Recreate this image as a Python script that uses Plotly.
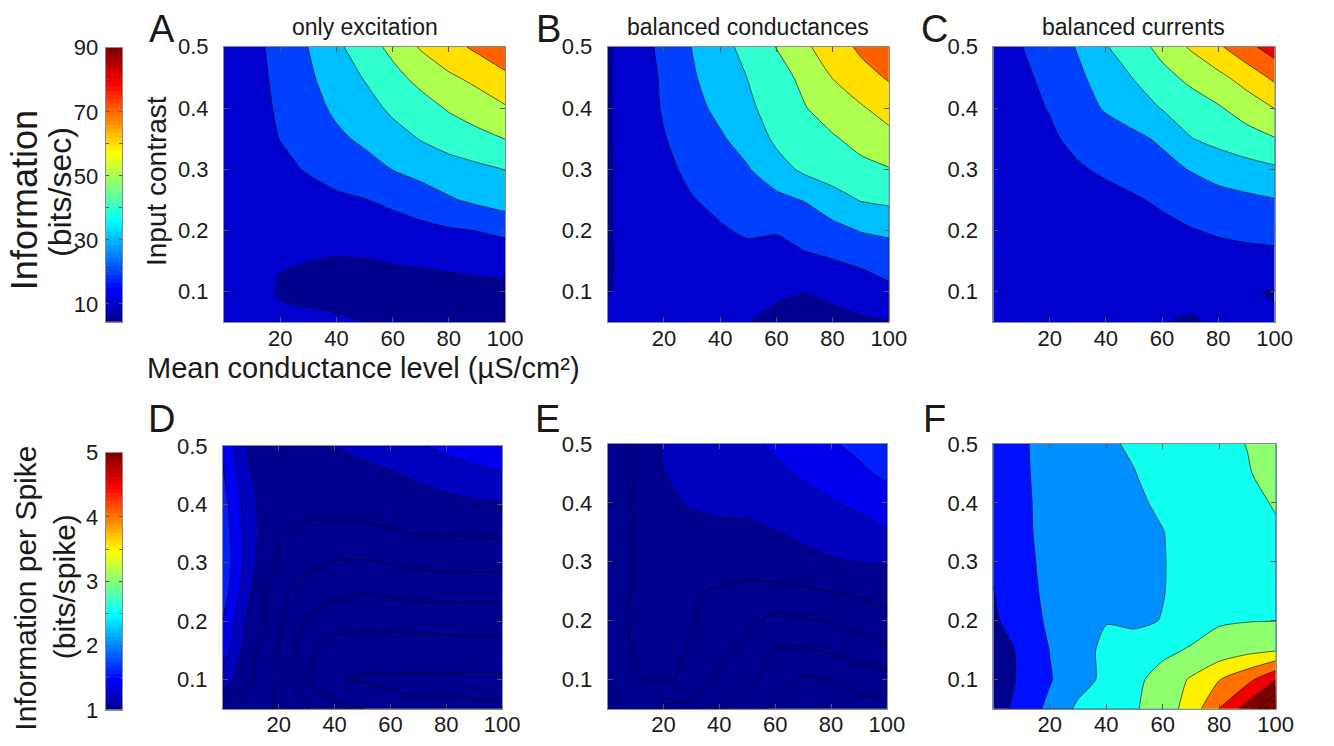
import numpy as np
import plotly.graph_objects as go

W, H = 1334, 746
FONT = "Liberation Sans, Arial, Helvetica, sans-serif"
TXT = "#1a1a1a"
BOX = "#8c8c8c"

# ---------------------------------------------------------------- data
conductance = [0, 10, 20, 30, 40, 50, 60, 70, 80, 90, 100]          # uS/cm^2
contrast = [0.05, 0.10, 0.15, 0.20, 0.25, 0.30, 0.35, 0.40, 0.45, 0.50]

# information rate (bits/sec); one row per contrast value, one column per conductance
info_only_exc = [
    [12.0, 11.5, 11.0, 11.5, 10.9, 10.1, 9.3, 8.5, 8.2, 8.0, 8.0],
    [12.0, 12.0, 9.6, 8.5, 8.0, 7.5, 7.5, 7.5, 7.5, 7.5, 7.5],
    [11.5, 11.0, 10.3, 10.1, 9.5, 9.7, 10.3, 10.8, 11.5, 12.5, 14.0],
    [11.0, 11.0, 11.5, 12.5, 13.5, 14.5, 16.0, 17.5, 19.0, 20.2, 22.0],
    [10.5, 12.0, 13.5, 15.5, 18.0, 19.7, 22.0, 25.0, 29.0, 32.0, 35.0],
    [10.5, 13.5, 17.0, 21.0, 24.5, 27.0, 30.2, 33.5, 36.0, 38.0, 40.2],
    [11.0, 15.0, 20.3, 24.5, 28.5, 31.5, 36.0, 40.5, 44.0, 47.0, 50.2],
    [11.5, 16.0, 21.5, 27.0, 31.5, 36.0, 42.0, 46.0, 51.0, 55.0, 59.0],
    [12.0, 16.5, 22.5, 28.5, 34.5, 40.6, 47.0, 53.0, 58.5, 62.5, 68.0],
    [12.0, 17.0, 23.6, 30.1, 38.0, 45.4, 52.6, 61.0, 66.7, 72.0, 77.0],
]
info_bal_cond = [
    [11.0, 11.0, 11.0, 11.0, 10.8, 10.1, 8.5, 7.5, 8.0, 9.0, 9.5],
    [9.9, 10.8, 11.0, 11.2, 11.3, 11.0, 11.0, 10.2, 11.5, 13.5, 18.0],
    [9.75, 11.0, 12.0, 13.0, 14.5, 16.0, 17.0, 18.5, 19.5, 22.0, 24.0],
    [9.7, 11.5, 13.5, 16.0, 19.0, 21.5, 20.5, 23.0, 27.0, 30.5, 32.0],
    [9.6, 12.0, 15.5, 19.5, 22.5, 25.0, 27.5, 30.5, 36.0, 40.5, 42.0],
    [9.5, 12.5, 17.5, 22.5, 26.5, 29.5, 36.0, 42.0, 45.0, 47.5, 49.5],
    [9.4, 13.5, 19.5, 24.5, 29.0, 33.5, 42.0, 46.0, 49.0, 53.0, 57.0],
    [9.3, 14.0, 21.0, 27.5, 32.0, 38.5, 43.5, 49.5, 54.5, 59.0, 64.0],
    [9.2, 14.5, 21.5, 29.0, 34.5, 40.3, 46.0, 52.5, 60.3, 66.0, 71.0],
    [9.1, 15.5, 22.5, 30.2, 36.5, 43.5, 50.3, 58.5, 64.5, 72.0, 78.0],
]
info_bal_curr = [
    [12.0, 11.5, 11.5, 11.2, 11.0, 10.7, 10.1, 9.7, 10.4, 10.5, 10.3],
    [12.0, 11.5, 11.5, 11.5, 11.5, 11.5, 11.0, 10.8, 11.0, 10.2, 9.85],
    [12.0, 12.0, 12.5, 13.0, 13.5, 14.0, 14.5, 15.5, 16.5, 17.0, 17.5],
    [12.0, 12.5, 13.0, 14.0, 15.0, 16.0, 17.5, 19.5, 21.0, 22.0, 22.5],
    [12.0, 13.0, 14.0, 15.5, 17.0, 19.0, 21.5, 24.0, 26.5, 28.0, 29.6],
    [12.5, 14.0, 16.0, 19.0, 21.5, 24.0, 27.0, 30.5, 34.0, 36.5, 38.5],
    [13.0, 15.5, 18.5, 22.5, 25.5, 28.0, 31.5, 39.6, 43.0, 46.0, 49.5],
    [13.5, 17.0, 20.5, 26.0, 31.0, 35.0, 40.5, 44.5, 49.0, 54.5, 60.2],
    [14.0, 18.0, 22.5, 28.5, 33.5, 40.5, 46.5, 52.5, 57.5, 64.0, 72.0],
    [15.0, 19.8, 25.5, 30.6, 39.5, 45.0, 53.5, 61.0, 68.5, 77.0, 85.0],
]

# information per spike (bits/spike)
spike_only_exc = [
    [1.02, 0.90, 0.78, 0.62, 0.47, 0.41, 0.26, 0.22, 0.22, 0.22, 0.215],
    [1.30, 1.02, 0.76, 0.38, 0.22, 0.18, 0.17, 0.17, 0.17, 0.16, 0.16],
    [1.50, 1.05, 0.78, 0.45, 0.33, 0.30, 0.30, 0.30, 0.31, 0.32, 0.33],
    [1.59, 1.12, 0.84, 0.58, 0.47, 0.45, 0.46, 0.48, 0.48, 0.48, 0.47],
    [1.70, 1.21, 0.85, 0.72, 0.65, 0.61, 0.63, 0.66, 0.67, 0.67, 0.67],
    [1.75, 1.25, 0.97, 0.85, 0.79, 0.78, 0.805, 0.84, 0.86, 0.86, 0.86],
    [1.72, 1.27, 1.02, 0.97, 0.96, 0.95, 0.98, 1.005, 1.01, 1.02, 1.03],
    [1.68, 1.25, 1.02, 1.04, 1.06, 1.07, 1.09, 1.12, 1.15, 1.17, 1.19],
    [1.62, 1.21, 1.05, 1.08, 1.11, 1.15, 1.18, 1.23, 1.28, 1.33, 1.38],
    [1.55, 1.15, 1.10, 1.15, 1.205, 1.25, 1.30, 1.38, 1.46, 1.52, 1.58],
]
spike_bal_cond = [
    [1.22, 0.90, 0.76, 0.73, 0.63, 0.50, 0.36, 0.30, 0.30, 0.32, 0.34],
    [0.95, 0.99, 1.02, 0.97, 0.75, 0.64, 0.52, 0.38, 0.405, 0.48, 0.54],
    [0.91, 1.02, 1.04, 0.99, 0.86, 0.75, 0.595, 0.57, 0.63, 0.69, 0.75],
    [0.92, 1.03, 1.05, 1.005, 0.93, 0.85, 0.75, 0.78, 0.81, 0.88, 0.96],
    [0.92, 1.02, 1.04, 1.02, 0.98, 0.93, 0.94, 0.97, 1.005, 1.03, 1.06],
    [0.91, 1.02, 1.06, 1.08, 1.10, 1.12, 1.14, 1.16, 1.185, 1.205, 1.22],
    [0.92, 1.02, 1.10, 1.13, 1.16, 1.17, 1.195, 1.23, 1.28, 1.33, 1.385],
    [0.92, 1.01, 1.15, 1.22, 1.24, 1.235, 1.30, 1.34, 1.39, 1.44, 1.50],
    [0.93, 1.03, 1.199, 1.24, 1.27, 1.31, 1.36, 1.42, 1.48, 1.56, 1.64],
    [0.95, 1.02, 1.22, 1.27, 1.31, 1.36, 1.43, 1.50, 1.58, 1.65, 1.72],
]
spike_bal_curr = [
    [1.20, 1.75, 2.10, 2.60, 2.75, 2.95, 3.25, 3.70, 4.52, 5.20, 7.20],
    [1.15, 1.60, 1.97, 2.30, 2.62, 2.88, 3.20, 3.55, 3.98, 4.35, 4.95],
    [1.15, 1.62, 2.01, 2.30, 2.62, 2.75, 2.88, 3.05, 3.20, 3.35, 3.45],
    [1.40, 1.85, 2.05, 2.30, 2.48, 2.40, 2.52, 2.75, 2.95, 2.98, 2.99],
    [1.49, 1.85, 2.10, 2.25, 2.30, 2.35, 2.48, 2.70, 2.85, 2.90, 2.95],
    [1.55, 1.85, 2.15, 2.25, 2.30, 2.35, 2.48, 2.65, 2.75, 2.85, 2.93],
    [1.60, 1.90, 2.15, 2.25, 2.30, 2.38, 2.49, 2.65, 2.75, 2.85, 2.95],
    [1.60, 1.90, 2.17, 2.25, 2.30, 2.44, 2.56, 2.70, 2.80, 2.90, 3.03],
    [1.60, 1.92, 2.18, 2.28, 2.35, 2.49, 2.65, 2.75, 2.85, 2.97, 3.15],
    [1.60, 1.93, 2.20, 2.30, 2.45, 2.55, 2.65, 2.78, 2.90, 3.01, 3.30],
]

panel_titles = ["only excitation", "balanced conductances", "balanced currents"]
panel_letters = ["A", "B", "C", "D", "E", "F"]

rate_clim = [4.3, 90.0]
spike_clim = [1.0, 5.0]
rate_levels = (10, 80, 10)          # start, end, step
spike_levels_fine = (0.2, 1.6, 0.2)
spike_levels_coarse = (1.0, 7.0, 0.5)

x_ticks = [20, 40, 60, 80, 100]
y_ticks = [0.1, 0.2, 0.3, 0.4, 0.5]
rate_cbar_ticks = [10, 20, 30, 40, 50, 60, 70, 80, 90]
rate_cbar_labels = ["10", "", "30", "", "50", "", "70", "", "90"]
spike_cbar_ticks = [1, 1.5, 2, 2.5, 3, 3.5, 4, 4.5, 5]
spike_cbar_labels = ["1", "", "2", "", "3", "", "4", "", "5"]


# ---------------------------------------------------------------- colours
def jet64():
    n = 16
    u = [k / n for k in range(1, n + 1)] + [1.0] * (n - 1) + [k / n for k in range(n, 0, -1)]

    def pick(i):
        return u[i - 1] if 1 <= i <= len(u) else 0.0

    return [(pick(j - 24), pick(j - 8), pick(j + 8)) for j in range(1, 65)]


JET = jet64()


def rgb(c):
    return "rgb(%d,%d,%d)" % tuple(int(round(255 * v)) for v in c)


def jet_at(v, clim):
    idx = int(np.floor((v - clim[0]) / (clim[1] - clim[0]) * 64 + 1e-9))
    return rgb(JET[min(max(idx, 0), 63)])


def band_scale(levels, clim):
    # region below the first level, then one colour per filled band (level value)
    n = len(levels)
    scale = [[0.0, jet_at(clim[0], clim)]]
    for i, lev in enumerate(levels):
        scale.append([(i + 1) / n, jet_at(lev, clim)])
    return scale


def level_list(spec):
    start, end, step = spec
    return list(np.arange(start, end + step / 2, step))


# ---------------------------------------------------------------- layout boxes (px)
boxes = [
    (227, 512, 36, 321), (616, 901, 36, 321), (1007, 1292, 36, 321),
    (226, 509, 449, 721), (616, 899, 447, 721), (1007, 1293, 447, 721),
]
cbar_boxes = [(107, 124, 37, 321), (107, 124, 456, 722)]


def xdom(b):
    return [b[0] / W, b[1] / W]


def ydom(b):
    return [1 - b[3] / H, 1 - b[2] / H]


panels = [
    (info_only_exc, rate_levels, rate_clim),
    (info_bal_cond, rate_levels, rate_clim),
    (info_bal_curr, rate_levels, rate_clim),
    (spike_only_exc, spike_levels_fine, spike_clim),
    (spike_bal_cond, spike_levels_fine, spike_clim),
    (spike_bal_curr, spike_levels_coarse, spike_clim),
]

fig = go.Figure()
layout = dict(
    width=W, height=H, margin=dict(l=0, r=0, t=0, b=0),
    paper_bgcolor="white", plot_bgcolor="white", showlegend=False,
    font=dict(family=FONT, color=TXT),
)

axis_common = dict(
    showgrid=False, zeroline=False, showline=True, linecolor=BOX, linewidth=1,
    mirror="ticks", ticks="inside", ticklen=5, tickcolor="#555555", tickwidth=1,
    tickfont=dict(family=FONT, size=22, color=TXT), fixedrange=True,
)

for i, (z, lv, clim) in enumerate(panels):
    k = "" if i == 0 else str(i + 1)
    levels = level_list(lv)
    fig.add_trace(go.Contour(
        x=conductance, y=contrast, z=z, xaxis="x" + k, yaxis="y" + k,
        autocontour=False,
        contours=dict(start=lv[0], end=lv[1], size=lv[2], coloring="fill", showlines=True),
        colorscale=band_scale(levels, clim), showscale=False,
        line=dict(color="black", width=0.6, smoothing=0.6),
        hoverinfo="skip",
    ))
    layout["xaxis" + k] = dict(
        axis_common, domain=xdom(boxes[i]), anchor="y" + k, range=[0, 100],
        tickvals=x_ticks, ticktext=[str(t) for t in x_ticks], ticklabelstandoff=-4,
    )
    layout["yaxis" + k] = dict(
        axis_common, domain=ydom(boxes[i]), anchor="x" + k, range=[0.05, 0.5],
        tickvals=y_ticks, ticktext=["%.1f" % t for t in y_ticks], ticklabelstandoff=10,
    )

# colour bars drawn as 64-step jet ramps
for j, (clim, tv, tt) in enumerate([
    (rate_clim, rate_cbar_ticks, rate_cbar_labels),
    (spike_clim, spike_cbar_ticks, spike_cbar_labels),
]):
    k = str(7 + j)
    step = (clim[1] - clim[0]) / 64
    centers = [clim[0] + (m + 0.5) * step for m in range(64)]
    fig.add_trace(go.Heatmap(
        x=[0], y=centers, z=[[m] for m in range(64)], zmin=0, zmax=63,
        colorscale=[[m / 63, rgb(JET[m])] for m in range(64)], showscale=False,
        xaxis="x" + k, yaxis="y" + k, hoverinfo="skip",
    ))
    layout["xaxis" + k] = dict(
        domain=xdom(cbar_boxes[j]), anchor="y" + k, range=[-0.5, 0.5],
        showgrid=False, zeroline=False, showline=True, linecolor=BOX, mirror=True,
        showticklabels=False, ticks="", fixedrange=True,
    )
    layout["yaxis" + k] = dict(
        axis_common, domain=ydom(cbar_boxes[j]), anchor="x" + k, range=clim,
        tickvals=tv, ticktext=tt, ticklen=3, ticklabelstandoff=2,
    )


def px(x, y):
    return x / W, 1 - y / H


annotations = []


def note(text, x, y, size, angle=0, xanchor="center", yanchor="middle"):
    ax, ay = px(x, y)
    annotations.append(dict(
        text=text, x=ax, y=ay, xref="paper", yref="paper", showarrow=False,
        xanchor=xanchor, yanchor=yanchor, textangle=angle,
        font=dict(family=FONT, size=size, color=TXT),
    ))


letter_pos = [(164, 18), (556, 18), (947, 18), (164, 421), (555, 421), (947, 421)]
for letter, (lx, ly) in zip(panel_letters, letter_pos):
    note(letter, lx, ly, 38)

for title, b in zip(panel_titles, boxes[:3]):
    note(title, (b[0] + b[1]) / 2, 15.5, 23)

note("Input contrast", 158, 175, 28, angle=-90)
note("Mean conductance level (µS/cm²)", 368, 368, 29)
note("Information", 25, 195, 36, angle=-90)
note("(bits/sec)", 61, 186, 32, angle=-90)
note("Information per Spike", 25, 596, 30, angle=-90)
note("(bits/spike)", 65, 595, 30, angle=-90)

layout["annotations"] = annotations
fig.update_layout(**layout)
fig.write_html(
    "out.html",
    post_script="document.body.style.margin='0';document.body.style.overflow='hidden';",
)
